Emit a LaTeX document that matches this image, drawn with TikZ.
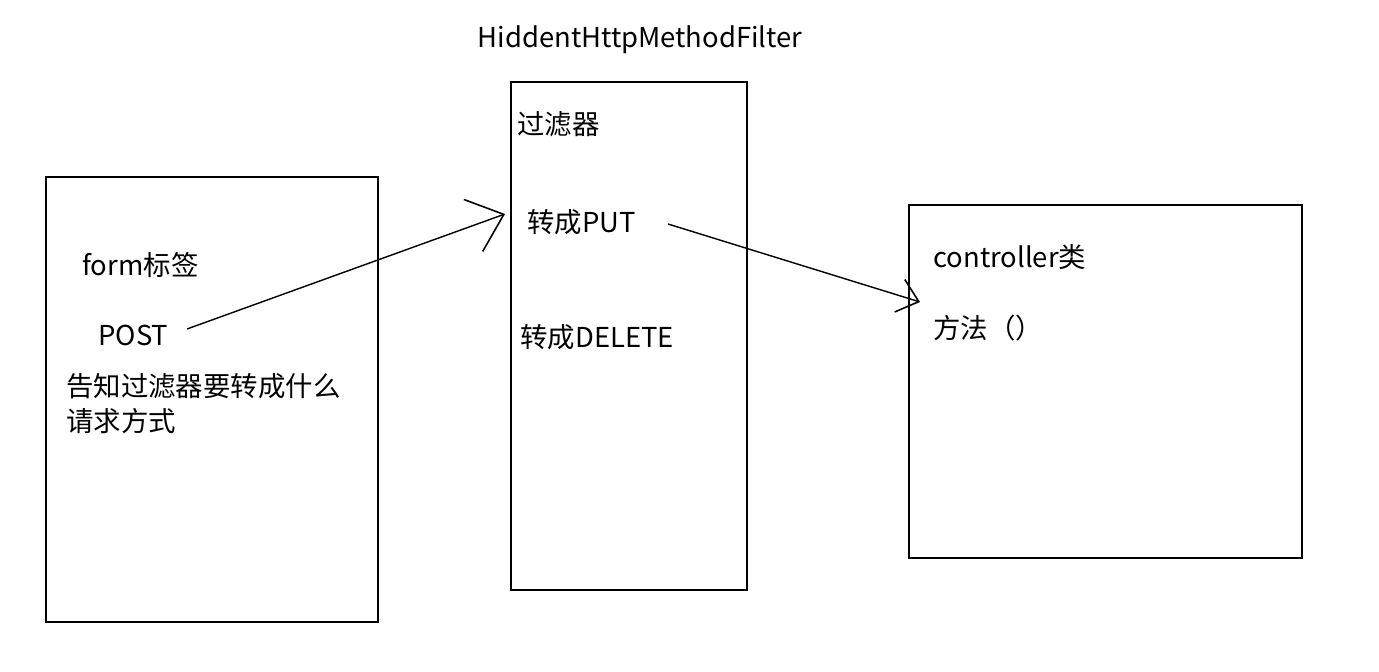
\documentclass[tikz,border=0pt]{standalone}
\usepackage{fontspec}
\setmainfont{Noto Sans CJK SC}
\usetikzlibrary{arrows.meta, positioning}
\tikzset{
	boxnode/.style={
			draw=black,
			line width=1.1pt,
			fill=none,
			inner sep=0pt
		},
	textnode/.style={
			anchor=west,
			inner sep=0pt,
			font=\fontsize{15.6pt}{19.9pt}\selectfont
		},
	sketcharrow/.style={
			line width=0.8pt,
			-{Straight Barb[length=#1, width=1.7*#1, line width=0.9pt]}
		}
}
\begin{document}
\begin{tikzpicture}[x=0.02cm, y=-0.02cm]
				\useasboundingbox (0,0) rectangle (1379,672);
				% three boxes
				\node[boxnode, minimum width=6.64cm, minimum height=8.9cm] at (212,399.5) (form) {};
				\node[boxnode, minimum width=4.72cm, minimum height=10.16cm] at (629,336) (filter) {};
				\node[boxnode, minimum width=7.86cm, minimum height=7.06cm] at (1105.5,381.5) (ctrl) {};
				% texts
				\node[textnode, anchor=center] at (640,40) (title) {HiddentHttpMethodFilter};
				\node[textnode] at (517,124) (guolv) {过滤器};
				\node[textnode] at (527,222) (put) {转成PUT};
				\node[textnode] at (520,337) (delete) {转成DELETE};
				\node[textnode] at (82,265) (formtag) {form标签};
				\node[textnode] at (98,335) (post) {POST};
				\node[textnode, align=left] at (66,403.5) (tell) {告知过滤器要转成什么\\请求方式};
				\node[textnode] at (933,257) (ctrlname) {controller类};
				\node[textnode] at (933,328) (method) {方法（）};
				% arrows
				\coordinate (p1) at (187,329);
				\coordinate (p2) at (505,214);
				\coordinate (p3) at (668,224);
				\coordinate (p4) at (920,302);
				\draw[sketcharrow=0.65cm] (p1) -- (p2);
				\draw[sketcharrow=0.4cm] (p3) -- (p4);
			\end{tikzpicture}
\end{document}
